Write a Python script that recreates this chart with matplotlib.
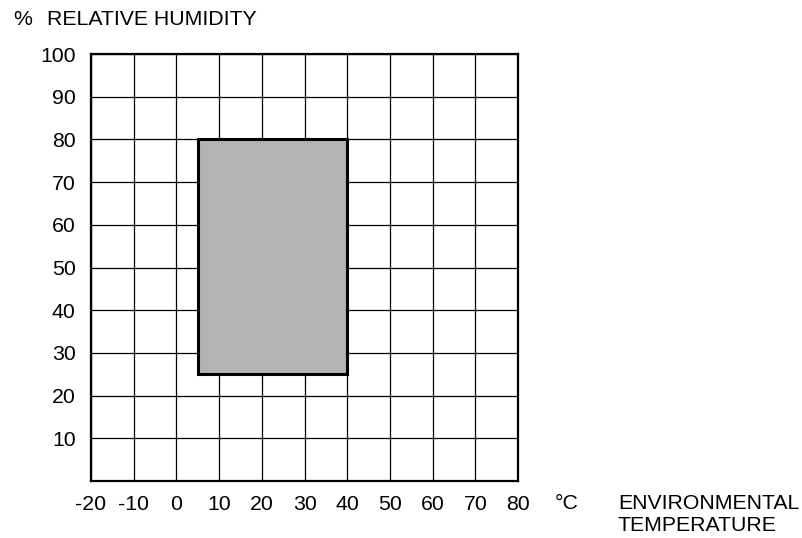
import matplotlib
matplotlib.use("Agg")
import matplotlib.pyplot as plt
from matplotlib.patches import Rectangle

plt.rcParams['font.family'] = ['Liberation Sans', 'DejaVu Sans']
plt.rcParams['axes.unicode_minus'] = False

# operating range
temp_range = [5, 40]
humidity_range = [25, 80]

x_ticks = [-20, -10, 0, 10, 20, 30, 40, 50, 60, 70, 80]
y_ticks = [10, 20, 30, 40, 50, 60, 70, 80, 90, 100]

fs = 15.3

fig = plt.figure(figsize=(8.03, 5.38), dpi=100)
ax = fig.add_axes([91/803, 1 - 481/538, 427/803, 427/538])

ax.set_xlim(-20, 80)
ax.set_ylim(0, 100)

for x in x_ticks:
    ax.axvline(x, color='black', lw=0.9, zorder=1)
for y in y_ticks:
    ax.axhline(y, color='black', lw=0.9, zorder=1)

rect = Rectangle((temp_range[0], humidity_range[0]),
                 temp_range[1] - temp_range[0],
                 humidity_range[1] - humidity_range[0],
                 facecolor='#b3b3b3', edgecolor='black', lw=2.2, zorder=3)
ax.add_patch(rect)

ax.set_xticks(x_ticks)
ax.set_yticks(y_ticks)
ax.tick_params(length=0, labelsize=fs)
ax.tick_params(axis='x', pad=10)
ax.tick_params(axis='y', pad=11)
for s in ax.spines.values():
    s.set_linewidth(1.6)
    s.set_zorder(4)

fig.text(13/803, 1 - 25/538, '%', fontsize=fs, va='baseline', ha='left')
fig.text(47/803, 1 - 25/538, 'RELATIVE HUMIDITY', fontsize=fs, va='baseline', ha='left')
fig.text(555/803, 1 - 509/538, '°C', fontsize=fs, va='baseline', ha='left')
fig.text(618/803, 1 - 509/538, 'ENVIRONMENTAL', fontsize=fs, va='baseline', ha='left')
fig.text(618/803, 1 - 531/538, 'TEMPERATURE', fontsize=fs, va='baseline', ha='left')

fig.savefig('out.png', dpi=100)
